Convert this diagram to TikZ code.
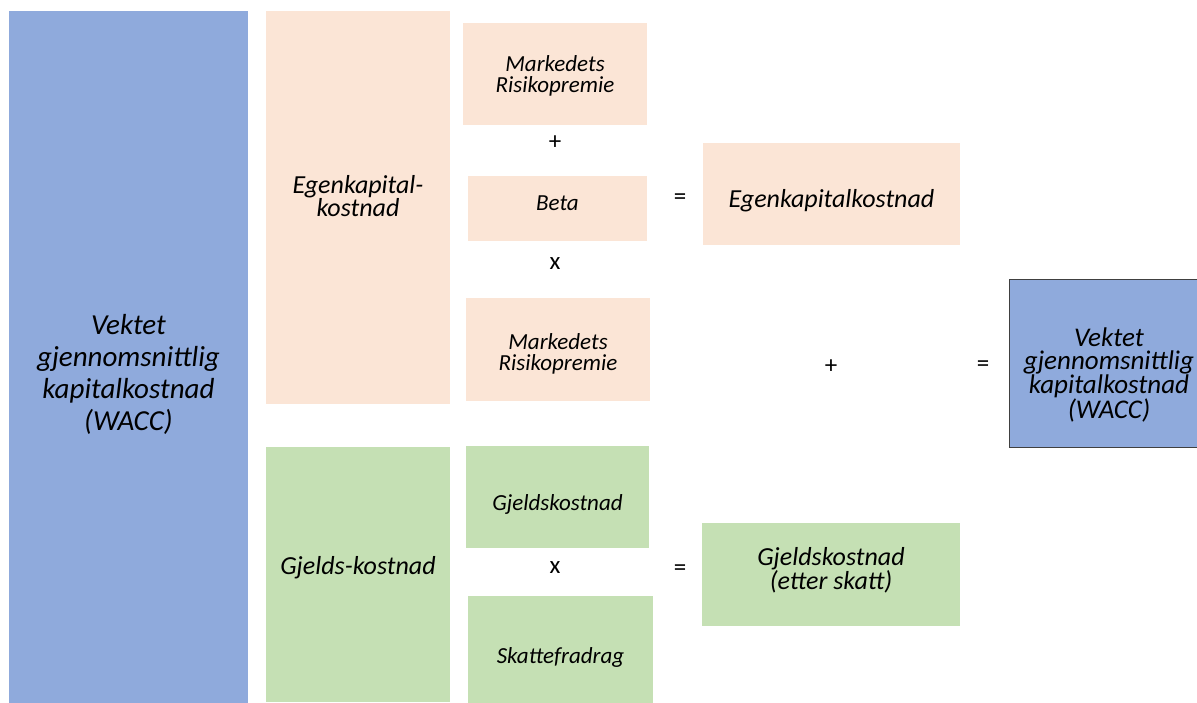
\documentclass[tikz,border=0pt]{standalone}
\usepackage{fontspec}
\setmainfont{Carlito}
\usepackage{tikz}
\definecolor{waccblue}{HTML}{8FAADC}
\definecolor{ekpeach}{HTML}{FBE5D6}
\definecolor{gjgreen}{HTML}{C5E0B4}
\newcommand{\fs}[2]{\fontsize{#1}{#2}\selectfont}

\begin{document}
\begin{tikzpicture}[x=1pt,y=-1pt]
            \tikzstyle{box}=[inner sep=0];
            \tikzstyle{blue box}=[box,fill=waccblue];
            \tikzstyle{peach box}=[box,fill=ekpeach];
            \tikzstyle{green box}=[box,fill=gjgreen];
            \tikzstyle{lbl}=[inner sep=0,align=center];
            \tikzstyle{op}=[inner sep=0,font=\fs{25}{25}];
            \useasboundingbox (0,0) rectangle (1197,702);
            % boxes
            \node[blue box,minimum width=239pt,minimum height=723pt] (wacc) at (128.5,372.5) {};
            \node[peach box,minimum width=184pt,minimum height=393pt] (ekbig) at (358,207.5) {};
            \node[green box,minimum width=184pt,minimum height=255pt] (gjbig) at (358,574.5) {};
            \node[peach box,minimum width=184pt,minimum height=102pt] (mrp1) at (555,74) {};
            \node[peach box,minimum width=179pt,minimum height=65pt] (beta) at (557.5,208.5) {};
            \node[peach box,minimum width=184pt,minimum height=103pt] (mrp2) at (558,349.5) {};
            \node[peach box,minimum width=257pt,minimum height=102pt] (ekres) at (831.5,194) {};
            \node[green box,minimum width=183pt,minimum height=102pt] (gj) at (557.5,497) {};
            \node[green box,minimum width=185pt,minimum height=120pt] (skatt) at (560.5,656) {};
            \node[green box,minimum width=258pt,minimum height=103pt] (gjres) at (831,574.5) {};
            \node[blue box,draw=black!75,line width=1pt,minimum width=200pt,minimum height=168pt] (waccres) at (1109,363) {};
            % texts
            \node[lbl,font=\itshape\fs{29}{32}] (wacc-t) at (128.5,374)
                {Vektet\\gjennomsnittlig\\kapitalkostnad\\(WACC)};
            \node[lbl,font=\itshape\fs{26}{20}] (ekbig-t) at (358,196) {Egenkapital-\\kostnad};
            \node[lbl,font=\itshape\fs{26}{26}] (gjbig-t) at (358,568) {Gjelds-kostnad};
            \node[lbl,font=\itshape\fs{23}{20.5}] (mrp1-t) at (555,76) {Markedets\\Risikopremie};
            \node[lbl,font=\itshape\fs{23}{23}] (beta-t) at (557.5,203) {Beta};
            \node[lbl,font=\itshape\fs{23}{20.5}] (mrp2-t) at (558,354) {Markedets\\Risikopremie};
            \node[lbl,font=\itshape\fs{26}{26}] (ekres-t) at (831.5,201) {Egenkapitalkostnad};
            \node[lbl,font=\itshape\fs{23}{23}] (gj-t) at (557.5,504) {Gjeldskostnad};
            \node[lbl,font=\itshape\fs{23}{23}] (skatt-t) at (560.5,657) {Skattefradrag};
            \node[lbl,font=\itshape\fs{26}{22}] (gjres-t) at (831,570.5) {Gjeldskostnad\\(etter skatt)};
            \node[lbl,font=\itshape\fs{27}{22.5}] (waccres-t) at (1109,375)
                {Vektet\\gjennomsnittlig\\kapitalkostnad\\(WACC)};
            % operators
            \node[op] (plus1) at (555,143) {+};
            \node[op] (times1) at (555,264) {x};
            \node[op] (eq1) at (680,199) {=};
            \node[op] (plus2) at (831,367) {+};
            \node[op] (eq2) at (983,366) {=};
            \node[op] (times2) at (555,568) {x};
            \node[op] (eq3) at (680,570) {=};
\end{tikzpicture}
\end{document}
